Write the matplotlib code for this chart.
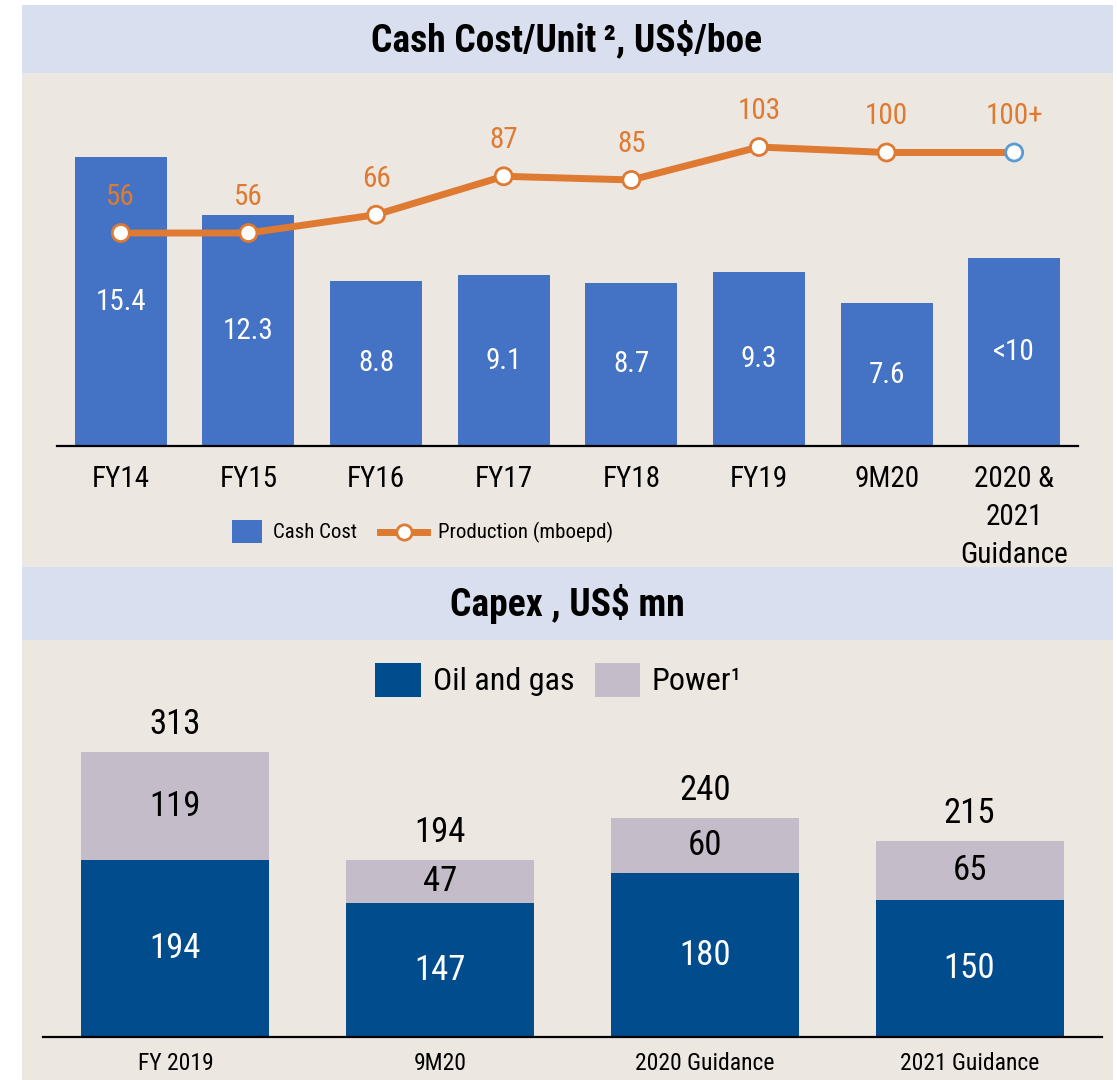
import matplotlib.pyplot as plt
from matplotlib.patches import Rectangle
from matplotlib.lines import Line2D

plt.rcParams['font.family'] = ['Roboto Condensed', 'Archivo Narrow', 'Liberation Sans Narrow', 'DejaVu Sans']

# top chart data
periods = ['FY14', 'FY15', 'FY16', 'FY17', 'FY18', 'FY19', '9M20', '2020 &\n2021\nGuidance']
cash_cost = [15.4, 12.3, 8.8, 9.1, 8.7, 9.3, 7.6, 10.0]
cash_labels = ['15.4', '12.3', '8.8', '9.1', '8.7', '9.3', '7.6', '<10']
production = [56, 56, 66, 87, 85, 103, 100, 100]
prod_labels = ['56', '56', '66', '87', '85', '103', '100', '100+']

# bottom chart data
capex_periods = ['FY 2019', '9M20', '2020 Guidance', '2021 Guidance']
oil_gas = [194, 147, 180, 150]
power = [119, 47, 60, 65]
totals = [313, 194, 240, 215]

W, H = 1117, 1080
bg = '#ECE7E1'
band = '#D9DFEE'
blue = '#4472C4'
orange = '#DE7A31'
navy = '#004C8C'
lilac = '#C4BCC8'

fig = plt.figure(figsize=(W / 100, H / 100), dpi=100)
fig.patch.set_facecolor('white')

def px_box(x0, y0, x1, y1):
    # pixel box (top-left origin) -> figure fraction
    return [x0 / W, 1 - y1 / H, (x1 - x0) / W, (y1 - y0) / H]

def rect(x0, y0, x1, y1, color, z=-5):
    l, b, w, h = px_box(x0, y0, x1, y1)
    fig.patches.append(Rectangle((l, b), w, h, transform=fig.transFigure,
                                 facecolor=color, edgecolor='none', zorder=z))

def ftext(xp, yp, s, **kw):
    fig.text(xp / W, 1 - yp / H, s, **kw)

rect(22, 5, 1113, 1080, bg)
rect(22, 5, 1113, 73, band)
rect(22, 567, 1113, 640, band)

ftext(567, 40, 'Cash Cost/Unit\u2009\u00b2, US$/boe', ha='center', va='center',
      fontsize=27, fontweight='bold')
ftext(567, 604, 'Capex , US$ mn', ha='center', va='center',
      fontsize=27, fontweight='bold')

# ---- top chart
top_scale = 18.76   # px per US$/boe
ax1 = fig.add_axes(px_box(57, 80, 1078, 446))
ax1.set_facecolor('none')
x = range(len(periods))
ax1.bar(x, cash_cost, width=0.72, color=blue, zorder=2)
for i, v in enumerate(cash_cost):
    ax1.text(i, v / 2, cash_labels[i], ha='center', va='center', color='white', fontsize=21)
ax1.set_xlim(-0.5, 7.5)
ax1.set_ylim(0, 366 / top_scale)
ax1.set_yticks([])
ax1.set_xticks(list(x))
ax1.set_xticklabels(periods, fontsize=21, linespacing=1.45)
ax1.tick_params(axis='x', length=0, pad=14)
for s in ['top', 'right', 'left']:
    ax1.spines[s].set_visible(False)
ax1.spines['bottom'].set_linewidth(1.6)

ax2 = ax1.twinx()
ax2.set_ylim(-110.5 / 1.83, (366 - 110.5) / 1.83)
ax2.plot(x, production, color=orange, lw=5, zorder=3)
edge = [orange] * 7 + ['#5B9BD5']
ax2.scatter(x, production, s=150, facecolor='white', edgecolor=edge, linewidth=2, zorder=4)
for i, v in enumerate(production):
    ax2.annotate(prod_labels[i], (i, v), xytext=(0, 26), textcoords='offset points',
                 ha='center', va='center', color=orange, fontsize=21)
ax2.set_yticks([])
for s in ax2.spines.values():
    s.set_visible(False)

# top legend drawn by hand
rect(232, 520, 262, 543, blue, z=5)
ftext(273, 532, 'Cash Cost', ha='left', va='center', fontsize=15)
fig.add_artist(Line2D([380 / W, 427 / W], [1 - 532 / H] * 2, color=orange, lw=5,
                      transform=fig.transFigure))
fig.add_artist(Line2D([403.5 / W], [1 - 532 / H], marker='o', markersize=11,
                      markerfacecolor='white', markeredgecolor=orange, markeredgewidth=2,
                      transform=fig.transFigure))
ftext(438, 532, 'Production (mboepd)', ha='left', va='center', fontsize=15)

# ---- bottom chart
bot_scale = 0.911   # px per US$ mn
ax3 = fig.add_axes(px_box(43, 700, 1102, 1037))
ax3.set_facecolor('none')
xb = range(len(capex_periods))
ax3.bar(xb, oil_gas, width=0.71, color=navy, zorder=2)
ax3.bar(xb, power, bottom=oil_gas, width=0.71, color=lilac, zorder=2)
for i in xb:
    ax3.text(i, oil_gas[i] / 2, str(oil_gas[i]), ha='center', va='center', color='white', fontsize=25)
    ax3.text(i, oil_gas[i] + power[i] / 2, str(power[i]), ha='center', va='center', color='black', fontsize=25)
    ax3.annotate(str(totals[i]), (i, totals[i]), xytext=(0, 20), textcoords='offset points',
                 ha='center', va='center', fontsize=25)
ax3.set_xlim(-0.5, 3.5)
ax3.set_ylim(0, 337 / bot_scale)
ax3.set_yticks([])
ax3.set_xticks(list(xb))
ax3.set_xticklabels(capex_periods, fontsize=17)
ax3.tick_params(axis='x', length=0, pad=11)
for s in ['top', 'right', 'left']:
    ax3.spines[s].set_visible(False)
ax3.spines['bottom'].set_linewidth(1.6)

# bottom legend drawn by hand
rect(375, 663, 421, 697, navy, z=5)
ftext(433, 682, 'Oil and gas', ha='left', va='center', fontsize=23)
rect(595, 663, 640, 697, lilac, z=5)
ftext(652, 682, 'Power\u00b9', ha='left', va='center', fontsize=23)

fig.savefig('out.png', dpi=100, facecolor=fig.get_facecolor())
